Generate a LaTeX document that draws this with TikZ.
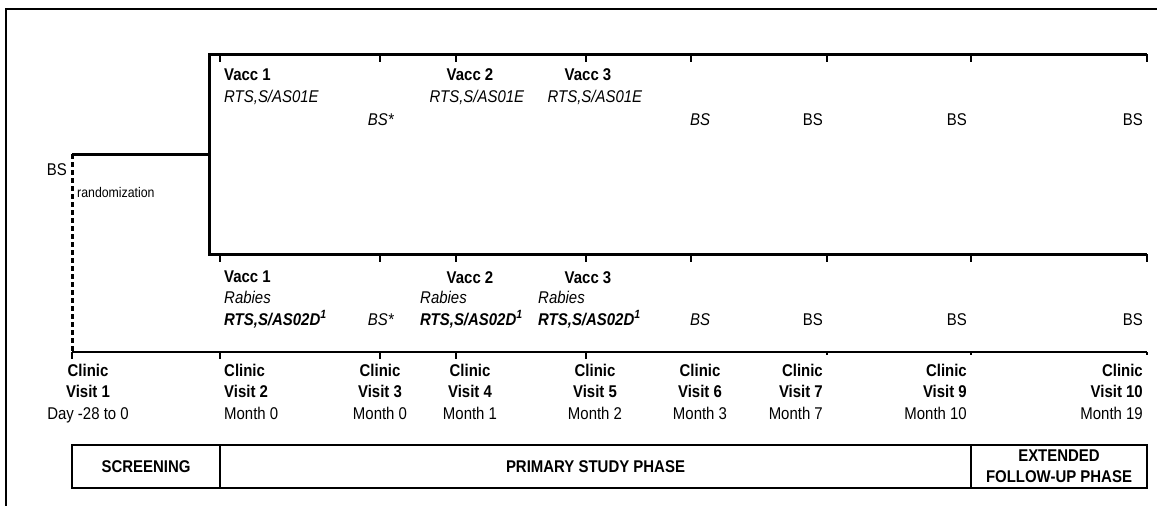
\documentclass[tikz,border=0pt]{standalone}
\usepackage{fontspec}
\setmainfont{Liberation Sans}[FakeStretch=0.88]
\usepackage{tikz}
\usetikzlibrary{positioning,calc}
\newcommand{\rtsE}{\textit{RTS,S/AS01E}}
\newcommand{\rtsD}{\textbf{\textit{RTS,S/AS02D\textsuperscript{1}}}}

\begin{document}
\begin{tikzpicture}[
  x=1pt,y=-1pt,
  every node/.style={inner sep=0pt,font=\fontsize{17}{21.5}\selectfont},
  armline/.style={line width=3pt},
  dashline/.style={line width=3pt,dash pattern=on 5pt off 3pt},
  timeline/.style={line width=2.4pt},
  tickmark/.style={line width=2.8pt},
  frameline/.style={line width=2pt},
  phasecell/.style={draw,line width=2.2pt,minimum height=43pt,align=center,font=\fontsize{17}{21}\selectfont\bfseries},
  lbl/.style={anchor=base},
  lblL/.style={anchor=base west,align=left},
  lblR/.style={anchor=base east,align=right},
  visit/.style={anchor=base,align=center}
]
\useasboundingbox (0,0) rectangle (1157,506);
% outer frame
\draw[frameline] (6,506) -- (6,9) -- (1157,9);

% arms and timeline
\coordinate (randL) at (72,154);
\coordinate (randR) at (209,154);
\coordinate (upTL) at (209,54);
\coordinate (upTR) at (1147,54);
\coordinate (upBL) at (209,254);
\coordinate (upBR) at (1147,254);
\coordinate (tlL) at (72,352);
\coordinate (tlR) at (1147,352);
\draw[armline] (upTR) -- (upTL) -- (upBL) -- (upBR);
\draw[armline] (randL) -- (randR);
\draw[dashline] (randL) -- (tlL);
\draw[timeline] (tlL) -- (tlR);
\foreach \x in {220,380,456,586,691,827,971,1147} {
  \draw[tickmark] (\x,54) -- ++(0,8);
  \draw[tickmark] (\x,254) -- ++(0,8);
}
\foreach \x in {72,220,380,456,586}
  \draw[tickmark] (\x,352) -- ++(0,7);
\foreach \x in {827,971,1147}
  \draw[tickmark] (\x,352) -- ++(0,3);

\node[lblR] (bs0) at (67,175) {BS};
\node[lblL,font=\fontsize{14}{16}\selectfont] (rand) at (77,197) {randomization};

% upper arm
\node[lblL] (a1) at (224,102) {\textbf{Vacc 1}\\\rtsE};
\node[lbl] (a1bs) at (381,125) {\textit{BS*}};
\node[lbl] (a2) at (470,80) {\textbf{Vacc 2}};
\node[lbl] (a2v) at (477,102) {\rtsE};
\node[lbl] (a3) at (588,80) {\textbf{Vacc 3}};
\node[lbl] (a3v) at (595,102) {\rtsE};
\node[lbl] (a6) at (700,125) {\textit{BS}};
\node[lblR] (a7) at (823,125) {BS};
\node[lblR] (a9) at (967,125) {BS};
\node[lblR] (a10) at (1143,125) {BS};

% lower arm
\node[lblL] (b1) at (224,325) {\textbf{Vacc 1}\\\textit{Rabies}\\\rtsD};
\node[lbl] (b1bs) at (381,325) {\textit{BS*}};
\node[lbl] (b2) at (470,283) {\textbf{Vacc 2}};
\node[lblL] (b2v) at (420,325) {\textit{Rabies}\\\rtsD};
\node[lbl] (b3) at (588,283) {\textbf{Vacc 3}};
\node[lblL] (b3v) at (538,325) {\textit{Rabies}\\\rtsD};
\node[lbl] (b6) at (700,325) {\textit{BS}};
\node[lblR] (b7) at (823,325) {BS};
\node[lblR] (b9) at (967,325) {BS};
\node[lblR] (b10) at (1143,325) {BS};

% clinic visits
\node[visit] (v1) at (88,419) {\textbf{Clinic}\\\textbf{Visit 1}\\Day -28 to 0};
\node[lblL] (v2) at (224,419) {\textbf{Clinic}\\\textbf{Visit 2}\\Month 0};
\node[visit] (v3) at (380,419) {\textbf{Clinic}\\\textbf{Visit 3}\\Month 0};
\node[visit] (v4) at (470,419) {\textbf{Clinic}\\\textbf{Visit 4}\\Month 1};
\node[visit] (v5) at (595,419) {\textbf{Clinic}\\\textbf{Visit 5}\\Month 2};
\node[visit] (v6) at (700,419) {\textbf{Clinic}\\\textbf{Visit 6}\\Month 3};
\node[lblR] (v7) at (823,419) {\textbf{Clinic}\\\textbf{Visit 7}\\Month 7};
\node[lblR] (v9) at (967,419) {\textbf{Clinic}\\\textbf{Visit 9}\\Month 10};
\node[lblR] (v10) at (1143,419) {\textbf{Clinic}\\\textbf{Visit 10}\\Month 19};

% phases
\node[phasecell,minimum width=148pt] (screen) at (146,466.5) {SCREENING};
\node[phasecell,minimum width=751pt] (primary) at (595.5,466.5) {PRIMARY STUDY PHASE};
\node[phasecell,minimum width=176pt] (extended) at (1059,466.5) {EXTENDED\\FOLLOW-UP PHASE};
\end{tikzpicture}
\end{document}
